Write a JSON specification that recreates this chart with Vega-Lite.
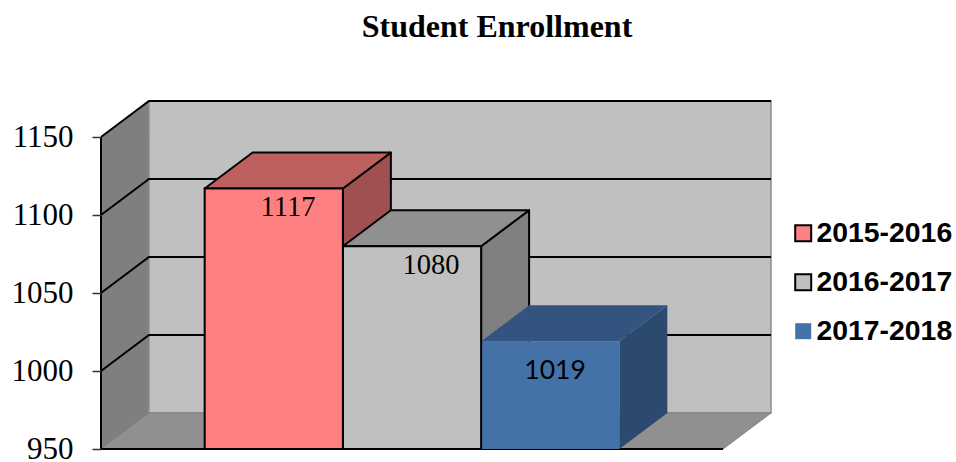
{
"$schema":"https://vega.github.io/schema/vega-lite/v6.json",
"width":670,"height":348,
"autosize":{"type":"none"},
"padding":{"left":101,"top":101,"right":185,"bottom":13},
"background":"white",
"config":{"view":{"stroke":null}},
"title":{"text":"Student Enrollment","font":"Liberation Serif","fontSize":32,"fontWeight":"bold","color":"black","anchor":"middle","dx":61,"offset":53},
"datasets":{
"bars":[
{"year":"2017-2018","start":2.75,"end":3.75,"enrollment":1019,"base":950,"labelX":3.285,"labelY":1000},
{"year":"2016-2017","start":1.75,"end":2.75,"enrollment":1080,"base":950,"labelX":2.388,"labelY":1068},
{"year":"2015-2016","start":0.75,"end":1.75,"enrollment":1117,"base":950,"labelX":1.353,"labelY":1105.2}
],
"sides":[
{"year":"2015-2016","x":1.75,"low":950,"high":1117},{"year":"2015-2016","x":2.097,"low":973.08,"high":1140.08},
{"year":"2016-2017","x":2.75,"low":950,"high":1080},{"year":"2016-2017","x":3.097,"low":973.08,"high":1103.08},
{"year":"2017-2018","x":3.75,"low":950,"high":1019},{"year":"2017-2018","x":4.097,"low":973.08,"high":1042.08}
],
"tops":[
{"year":"2015-2016","v":1117,"left":0.75,"right":1.75},{"year":"2015-2016","v":1140.08,"left":1.097,"right":2.097},
{"year":"2016-2017","v":1080,"left":1.75,"right":2.75},{"year":"2016-2017","v":1103.08,"left":2.097,"right":3.097},
{"year":"2017-2018","v":1019,"left":2.75,"right":3.75},{"year":"2017-2018","v":1042.08,"left":3.097,"right":4.097}
],
"leftWall":[{"x":0,"low":950,"high":1150},{"x":0.347,"low":973.08,"high":1173.08}],
"backWall":[{"x":0.347,"low":973.08,"high":1173.08},{"x":4.847,"low":973.08,"high":1173.08}],
"floor":[{"v":950,"left":0,"right":4.5},{"v":973.08,"left":0.347,"right":4.847}],
"rules":[
{"line":"1000","x":0,"v":1000},{"line":"1000","x":0.347,"v":1023.08},{"line":"1000","x":4.847,"v":1023.08},
{"line":"1050","x":0,"v":1050},{"line":"1050","x":0.347,"v":1073.08},{"line":"1050","x":4.847,"v":1073.08},
{"line":"1100","x":0,"v":1100},{"line":"1100","x":0.347,"v":1123.08},{"line":"1100","x":4.847,"v":1123.08},
{"line":"1150","x":0,"v":1150},{"line":"1150","x":0.347,"v":1173.08},{"line":"1150","x":4.847,"v":1173.08},
{"line":"axis","x":0,"v":1150},{"line":"axis","x":0,"v":950},{"line":"axis","x":4.5,"v":950}
]
},
"layer":[
{"data":{"name":"leftWall"},"mark":{"type":"area","fill":"#7F7F7F","stroke":"#7F7F7F","strokeWidth":1},
 "encoding":{"x":{"field":"x","type":"quantitative","scale":{"domain":[0,4.847],"nice":false,"zero":false},"axis":null},
 "y":{"field":"high","type":"quantitative","scale":{"domain":[950,1173.08],"nice":false,"zero":false},
  "axis":{"values":[950,1000,1050,1100,1150],"title":null,"domain":false,"grid":false,"tickSize":9,"tickWidth":1.5,"tickColor":"#333333","labelFont":"Liberation Serif","labelFontSize":31,"labelColor":"black","labelPadding":19,"zindex":1,"format":"d"}},
 "y2":{"field":"low"}}},
{"data":{"name":"backWall"},"mark":{"type":"area","fill":"#C0C0C0","stroke":"#8C8C8C","strokeWidth":1.5},
 "encoding":{"x":{"field":"x","type":"quantitative"},"y":{"field":"high","type":"quantitative"},"y2":{"field":"low"}}},
{"data":{"name":"floor"},"mark":{"type":"area","orient":"horizontal","fill":"#909090","stroke":"#7F7F7F","strokeWidth":1},
 "encoding":{"y":{"field":"v","type":"quantitative"},"x":{"field":"left","type":"quantitative"},"x2":{"field":"right"}}},
{"data":{"name":"rules"},"mark":{"type":"line","color":"black","strokeWidth":2},
 "encoding":{"x":{"field":"x","type":"quantitative"},"y":{"field":"v","type":"quantitative"},"detail":{"field":"line"}}},
{"data":{"name":"sides"},"mark":{"type":"area","strokeWidth":2,"strokeJoin":"round"},
 "encoding":{"x":{"field":"x","type":"quantitative"},"y":{"field":"high","type":"quantitative"},"y2":{"field":"low"},
 "fill":{"field":"year","type":"nominal","legend":null,"scale":{"domain":["2015-2016","2016-2017","2017-2018"],"range":["#A05050","#808080","#2C4A70"]}},
 "stroke":{"field":"year","type":"nominal","legend":null,"scale":{"domain":["2015-2016","2016-2017","2017-2018"],"range":["black","black","transparent"]}}}},
{"data":{"name":"tops"},"mark":{"type":"area","orient":"horizontal","strokeWidth":2,"strokeJoin":"round"},
 "encoding":{"y":{"field":"v","type":"quantitative"},"x":{"field":"left","type":"quantitative"},"x2":{"field":"right"},
 "fill":{"field":"year","type":"nominal","legend":null,"scale":{"domain":["2015-2016","2016-2017","2017-2018"],"range":["#BF6060","#909090","#345480"]}},
 "stroke":{"field":"year","type":"nominal","legend":null,"scale":{"domain":["2015-2016","2016-2017","2017-2018"],"range":["black","black","transparent"]}}}},
{"data":{"name":"bars"},"mark":{"type":"rect","strokeWidth":2},
 "encoding":{"x":{"field":"start","type":"quantitative"},"x2":{"field":"end"},"y":{"field":"enrollment","type":"quantitative"},"y2":{"field":"base"},
 "fill":{"field":"year","type":"nominal","scale":{"domain":["2015-2016","2016-2017","2017-2018"],"range":["#FF8080","#C0C0C0","#4472A8"]},
  "legend":{"title":null,"orient":"none","legendX":688,"legendY":118,"symbolType":"square","symbolSize":256,"symbolStrokeWidth":2,"labelFont":"Liberation Sans","labelFontSize":28.4,"labelFontWeight":"bold","labelColor":"black","labelOffset":-1,"rowPadding":20,"labelLimit":200,"padding":0}},
 "stroke":{"field":"year","type":"nominal","scale":{"domain":["2015-2016","2016-2017","2017-2018"],"range":["black","black","transparent"]},
  "legend":{"title":null,"orient":"none","legendX":688,"legendY":118,"symbolType":"square","symbolSize":256,"symbolStrokeWidth":2,"labelFont":"Liberation Sans","labelFontSize":28.4,"labelFontWeight":"bold","labelColor":"black","labelOffset":-1,"rowPadding":20,"labelLimit":200,"padding":0}}}},
{"data":{"name":"bars"},"transform":[{"filter":"datum.enrollment > 1050"}],"mark":{"type":"text","font":"Liberation Serif","fontSize":28.5,"baseline":"middle","align":"center","color":"black"},
 "encoding":{"x":{"field":"labelX","type":"quantitative"},"y":{"field":"labelY","type":"quantitative"},"text":{"field":"enrollment","type":"quantitative","format":"d"}}},
{"data":{"name":"bars"},"transform":[{"filter":"datum.enrollment < 1050"}],"mark":{"type":"text","font":"Lato","fontSize":26.5,"baseline":"middle","align":"center","color":"black"},
 "encoding":{"x":{"field":"labelX","type":"quantitative"},"y":{"field":"labelY","type":"quantitative"},"text":{"field":"enrollment","type":"quantitative","format":"d"}}}
],
"resolve":{"scale":{"fill":"independent","stroke":"independent"}}
}
